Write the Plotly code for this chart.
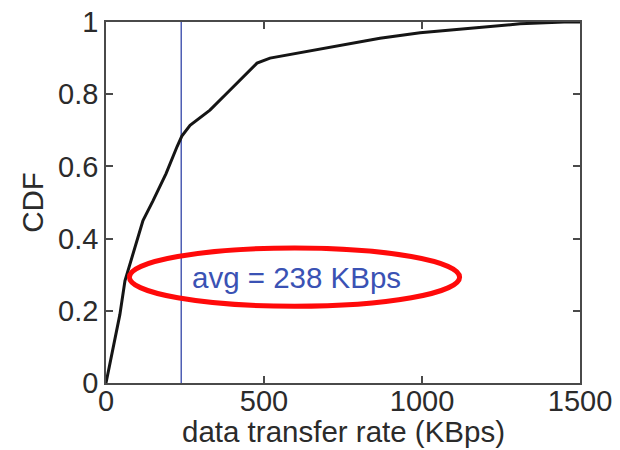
import plotly.graph_objects as go

# Data
rate_kbps = [0, 22, 44, 60, 82, 101, 117, 149, 190, 225, 240, 266, 329, 392, 434, 478, 519,
             623, 709, 867, 994, 1150, 1310, 1450, 1500]
cdf = [0, 0.097, 0.19, 0.283, 0.347, 0.403, 0.45, 0.505, 0.58, 0.655, 0.684, 0.714, 0.756,
       0.811, 0.847, 0.886, 0.90, 0.917, 0.93, 0.955, 0.97, 0.983, 0.995, 1.0, 1.0]
avg_rate = 238
avg_label = "avg = 238 KBps"
x_title = "data transfer rate (KBps)"
y_title = "CDF"
x_ticks = [0, 500, 1000, 1500]
y_ticks = [0, 0.2, 0.4, 0.6, 0.8, 1]
y_tick_text = ["0", "0.2", "0.4", "0.6", "0.8", "1"]

FONT = "Liberation Sans, Arial, sans-serif"
TXT = "#2b2b2b"
AX = "#4a4a4a"

fig = go.Figure()
fig.add_trace(go.Scatter(x=[avg_rate, avg_rate], y=[0, 1], mode="lines",
                         line=dict(color="#3345a8", width=1.3), hoverinfo="skip"))
fig.add_trace(go.Scatter(x=rate_kbps, y=cdf, mode="lines",
                         line=dict(color="#151515", width=3), hoverinfo="skip"))

# red ellipse highlighting the average label
fig.add_shape(type="circle", xref="x", yref="y", x0=74, x1=1119, y0=0.2125, y1=0.374,
              line=dict(color="#ff0a0a", width=5), layer="above")
fig.add_annotation(x=265, y=0.293, xref="x", yref="y", text=avg_label, showarrow=False,
                   xanchor="left", yanchor="middle",
                   font=dict(family=FONT, size=29.5, color="#3a52b4"))

# x-axis title placed as paper annotation to sit just below the tick labels
fig.add_annotation(x=0.5, y=-0.135, xref="paper", yref="paper", text=x_title,
                   showarrow=False, xanchor="center", yanchor="middle",
                   font=dict(family=FONT, size=29.5, color=TXT))

axis_common = dict(showline=True, linecolor=AX, linewidth=1.5, mirror="ticks",
                   ticks="inside", ticklen=7, tickcolor=AX, tickwidth=1.5,
                   showgrid=False, zeroline=False, automargin=False,
                   tickfont=dict(family=FONT, size=29, color=TXT))

fig.update_xaxes(range=[0, 1500], tickvals=x_ticks, ticktext=[str(v) for v in x_ticks],
                 ticklabelstandoff=-9, **axis_common)
fig.update_yaxes(range=[0, 1], tickvals=y_ticks, ticktext=y_tick_text,
                 title=dict(text=y_title, standoff=6,
                            font=dict(family=FONT, size=29.5, color=TXT)),
                 **axis_common)

fig.update_layout(width=620, height=450, showlegend=False,
                  margin=dict(l=106, r=40, t=22, b=67),
                  paper_bgcolor="white", plot_bgcolor="white")

fig.write_html("out.html")
